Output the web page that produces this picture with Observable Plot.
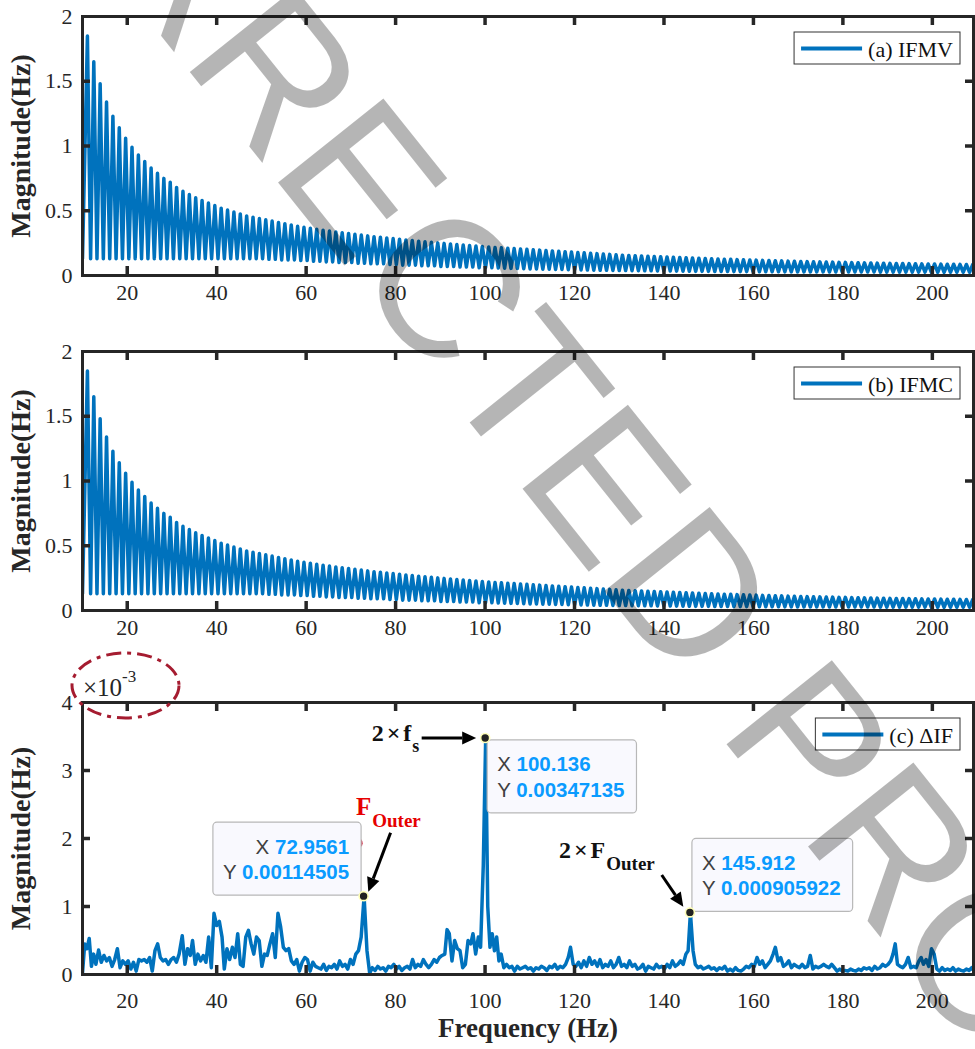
<!DOCTYPE html>
<html>
<head>
<meta charset="utf-8">
<script src="https://cdn.jsdelivr.net/npm/d3@7"></script>
<script src="https://cdn.jsdelivr.net/npm/@observablehq/plot@0.6"></script>
<style>
  html, body { margin: 0; padding: 0; background: #fff; }
  #root { position: relative; width: 975px; height: 1049px; overflow: hidden; background: #fff; }
  .panel { position: absolute; left: 0; }
  #wm { position: absolute; left: 0; top: 0; pointer-events: none; }
</style>
</head>
<body>
<div id="root">
  <div id="pa" class="panel" style="top:0px"></div>
  <div id="pb" class="panel" style="top:335px"></div>
  <div id="pc" class="panel" style="top:640px"></div>
</div>
<script>
// ---------------- DATA ----------------
const xTicks = [20, 40, 60, 80, 100, 120, 140, 160, 180, 200];
const abYTicks = [0, 0.5, 1, 1.5, 2];
const cYTicks = [0, 1, 2, 3, 4];
const xDomain = [10, 209.2];

// IFMV / IFMC spectrum: oscillation peaks on a 1.424 Hz grid starting at 11.1 Hz
const peakStartHz = 11.1, peakStepHz = 1.424, firstValue = 0.13;
const ifmvPeaks = [
  1.85,1.65,1.48,1.34,1.23,1.14,1.06,0.99,0.93,0.88,
  0.83,0.79,0.75,0.72,0.68,0.65,0.625,0.60,0.58,0.56,
  0.54,0.52,0.505,0.49,0.475,0.46,0.45,0.44,0.43,0.42,
  0.41,0.40,0.39,0.38,0.372,0.365,0.357,0.35,0.343,0.336,
  0.33,0.324,0.318,0.312,0.306,0.30,0.295,0.29,0.285,0.28,
  0.275,0.27,0.265,0.26,0.256,0.252,0.248,0.244,0.24,0.236,
  0.232,0.228,0.224,0.22,0.217,0.214,0.211,0.208,0.205,0.202,
  0.199,0.196,0.193,0.19,0.187,0.184,0.181,0.178,0.175,0.172,
  0.169,0.166,0.163,0.16,0.157,0.155,0.153,0.151,0.149,0.147,
  0.145,0.143,0.141,0.139,0.137,0.135,0.133,0.131,0.129,0.127,
  0.126,0.125,0.123,0.122,0.12,0.119,0.117,0.116,0.114,0.113,
  0.111,0.11,0.108,0.107,0.106,0.105,0.104,0.103,0.102,0.101,
  0.1,0.099,0.098,0.097,0.096,0.095,0.094,0.093,0.093,0.092,
  0.091,0.09,0.089,0.089,0.088,0.087,0.087,0.086,0.085,0.085
];
const ifmvTroughs = [
  0.13,0.13,0.13,0.13,0.13,0.13,0.13,0.13,0.13,0.13,
  0.13,0.13,0.13,0.13,0.13,0.13,0.13,0.13,0.13,0.13,
  0.13,0.13,0.13,0.13,0.13,0.13,0.13,0.13,
  0.125,0.125,0.12,0.12,0.12,0.115,0.115,
  0.11,0.11,0.105,0.105,0.1,0.1,0.1,
  0.095,0.095,0.09,0.09,0.09,0.085,0.085,
  0.08,0.08,0.08,0.075,0.075,0.075,0.07,
  0.07,0.07,0.065,0.065,0.065,0.06,0.06,
  0.06,0.058,0.056,0.055,0.054,0.052,0.05,
  0.05,0.049,0.048,0.047,0.046,0.045,0.044,0.043,0.042,0.041,0.04,0.04,0.039,0.038,
  0.038,0.037,0.037,0.036,0.036,0.035,0.035,0.034,0.034,0.033,0.033,0.032,0.032,0.032,
  0.031,0.031,0.031,0.03,0.03,0.03,0.03,0.029,0.029,0.029,0.029,0.028,0.028,0.028,
  0.028,0.028,0.028,0.028,0.027,0.027,0.027,0.027,0.027,0.027,0.027,0.027,
  0.026,0.026,0.026,0.026,0.026,0.026,0.026,0.026,
  0.025,0.025,0.025,0.025,0.025,0.025,0.025,0.025
];
// IFMC curve is visually identical to IFMV
const ifmcPeaks = ifmvPeaks;
const ifmcTroughs = ifmvTroughs;

// ΔIF spectrum: [Hz, magnitude ×10^-3]
const deltaIF = [
  [10.0,0.02],[10.5,0.45],[11.0,0.38],[11.5,0.53],[12.0,0.12],[12.5,0.3],[13.0,0.15],[13.6,0.36],[14.2,0.18],[14.8,0.28],
  [15.4,0.2],[16.0,0.25],[16.6,0.12],[17.2,0.22],[17.8,0.38],[18.4,0.1],[19.0,0.2],[19.6,0.15],[20.2,0.2],[20.8,0.08],
  [21.4,0.18],[22.0,0.05],[22.6,0.22],[23.2,0.2],[23.8,0.22],[24.4,0.18],[25.0,0.25],[25.6,0.05],[26.2,0.35],[26.8,0.45],
  [27.4,0.25],[28.0,0.2],[28.6,0.22],[29.2,0.15],[29.8,0.22],[30.4,0.25],[31.0,0.18],[31.6,0.3],[32.3,0.57],[32.9,0.15],
  [33.5,0.38],[34.1,0.28],[34.6,0.5],[35.2,0.15],[35.8,0.3],[36.4,0.2],[37.0,0.28],[37.6,0.18],[38.2,0.55],[38.8,0.1],
  [39.4,0.9],[40.0,0.72],[40.6,0.78],[41.2,0.55],[41.7,0.08],[42.3,0.38],[42.9,0.22],[43.5,0.4],[44.1,0.25],[44.7,0.6],
  [45.3,0.15],[45.9,0.12],[46.5,0.55],[47.1,0.65],[47.7,0.45],[48.3,0.3],[48.9,0.55],[49.5,0.5],[50.1,0.12],[50.7,0.3],
  [51.3,0.28],[51.9,0.45],[52.5,0.6],[53.1,0.25],[53.7,0.9],[54.3,0.7],[54.9,0.4],[55.5,0.35],[56.1,0.38],[56.7,0.2],
  [57.3,0.15],[57.9,0.22],[58.5,0.05],[59.1,0.18],[59.7,0.25],[60.3,0.22],[60.9,0.05],[61.5,0.18],[62.1,0.12],[62.7,0.1],
  [63.3,0.08],[63.9,0.15],[64.5,0.06],[65.1,0.12],[65.7,0.1],[66.3,0.15],[66.9,0.08],[67.5,0.2],[68.1,0.12],[68.7,0.15],
  [69.3,0.08],[69.9,0.22],[70.5,0.15],[71.1,0.3],[71.7,0.35],[72.3,0.55],[72.9561,1.14505],[73.6,0.35],[74.2,0.02],[74.8,0.1],
  [75.4,0.06],[76.0,0.12],[76.6,0.08],[77.2,0.1],[77.8,0.05],[78.4,0.12],[79.0,0.1],[79.6,0.15],[80.2,0.08],[80.8,0.12],
  [81.4,0.06],[82.0,0.1],[82.6,0.12],[83.2,0.08],[83.8,0.22],[84.4,0.1],[85.0,0.15],[85.6,0.12],[86.2,0.22],[86.8,0.15],
  [87.4,0.1],[88.0,0.15],[88.6,0.22],[89.2,0.18],[89.8,0.25],[90.4,0.28],[91.0,0.3],[91.5,0.66],[92.0,0.6],[92.6,0.2],
  [93.2,0.5],[93.8,0.38],[94.4,0.35],[95.0,0.1],[95.6,0.15],[96.2,0.5],[96.8,0.45],[97.3,0.6],[97.9,0.3],[98.5,0.55],
  [99.0,0.4],[99.6,1.6],[100.136,3.47135],[100.6,1.0],[101.1,0.4],[101.6,0.6],[102.1,0.35],[102.6,0.55],[103.1,0.2],[103.6,0.3],
  [104.2,0.1],[104.8,0.15],[105.4,0.1],[106.0,0.12],[106.6,0.05],[107.2,0.12],[107.8,0.08],[108.4,0.1],[109.0,0.12],[109.6,0.08],
  [110.2,0.1],[110.8,0.05],[111.4,0.1],[112.0,0.08],[112.6,0.12],[113.2,0.1],[113.8,0.06],[114.4,0.12],[115.0,0.1],[115.6,0.15],
  [116.2,0.08],[116.8,0.12],[117.4,0.1],[118.0,0.15],[118.6,0.25],[119.1,0.4],[119.7,0.15],[120.3,0.12],[120.9,0.18],[121.5,0.1],
  [122.1,0.2],[122.7,0.12],[123.3,0.25],[123.9,0.15],[124.5,0.2],[125.1,0.12],[125.7,0.22],[126.3,0.1],[126.9,0.15],[127.5,0.12],
  [128.1,0.2],[128.7,0.1],[129.3,0.15],[129.9,0.25],[130.5,0.12],[131.1,0.15],[131.7,0.1],[132.3,0.2],[132.9,0.12],[133.5,0.15],
  [134.1,0.08],[134.7,0.1],[135.3,0.15],[135.9,0.05],[136.5,0.12],[137.1,0.1],[137.7,0.08],[138.3,0.15],[138.9,0.1],[139.5,0.12],
  [140.1,0.08],[140.7,0.15],[141.3,0.1],[141.9,0.2],[142.5,0.12],[143.1,0.15],[143.7,0.2],[144.3,0.15],[144.9,0.3],[145.4,0.35],
  [145.912,0.905922],[146.5,0.35],[147.0,0.15],[147.6,0.1],[148.2,0.12],[148.8,0.08],[149.4,0.1],[150.0,0.12],[150.6,0.08],[151.2,0.1],
  [151.8,0.06],[152.4,0.1],[153.0,0.08],[153.6,0.12],[154.2,0.05],[154.8,0.08],[155.4,0.05],[156.0,0.1],[156.6,0.06],[157.2,0.05],
  [157.8,0.08],[158.4,0.12],[159.0,0.1],[159.6,0.15],[160.2,0.12],[160.8,0.25],[161.4,0.15],[162.0,0.2],[162.6,0.1],[163.2,0.15],
  [163.8,0.2],[164.4,0.3],[164.9,0.4],[165.5,0.2],[166.1,0.25],[166.7,0.12],[167.3,0.15],[167.9,0.2],[168.5,0.1],[169.1,0.15],
  [169.7,0.12],[170.3,0.1],[170.9,0.15],[171.5,0.1],[172.1,0.12],[172.7,0.28],[173.3,0.08],[173.9,0.12],[174.5,0.1],[175.1,0.12],
  [175.7,0.15],[176.3,0.12],[176.9,0.1],[177.5,0.15],[178.1,0.1],[178.7,0.05],[179.3,0.08],[179.9,0.05],[180.5,0.06],[181.1,0.05],
  [181.7,0.08],[182.3,0.06],[182.9,0.05],[183.5,0.08],[184.1,0.06],[184.7,0.1],[185.3,0.08],[185.9,0.1],[186.5,0.06],[187.1,0.12],
  [187.7,0.08],[188.3,0.1],[188.9,0.15],[189.5,0.12],[190.1,0.15],[190.7,0.2],[191.2,0.3],[191.7,0.45],[192.2,0.15],[192.8,0.12],
  [193.4,0.1],[194.0,0.15],[194.6,0.25],[195.2,0.1],[195.8,0.12],[196.4,0.1],[197.0,0.2],[197.5,0.25],[198.0,0.15],[198.6,0.22],
  [199.2,0.12],[199.8,0.38],[200.4,0.3],[201.0,0.08],[201.6,0.05],[202.2,0.1],[202.8,0.06],[203.4,0.08],[204.0,0.06],[204.6,0.1],
  [205.2,0.05],[205.8,0.08],[206.4,0.06],[207.0,0.05],[207.6,0.08],[208.2,0.06],[208.8,0.1],[209.3,0.05]
];

// data tips (values in ×10^-3 for plotting, strings as shown)
const tips = [
  {hz: 72.9561, mag: 1.14505, xText: "72.9561", yText: "0.00114505", side: "left", vert: "above"},
  {hz: 100.136, mag: 3.47135, xText: "100.136", yText: "0.00347135", side: "right", vert: "below"},
  {hz: 145.912, mag: 0.905922, xText: "145.912", yText: "0.000905922", side: "right", vert: "above"}
];

// ---------------- STYLE ----------------
const BLUE = "#0072BD", INK = "#262626";
const SERIF = "'Liberation Serif', 'Times New Roman', serif";
const SANS = "'Liberation Sans', Arial, Helvetica, sans-serif";
const W = 975, ML = 82, MR = 2;

function ifSeries(peaks, troughs) {
  const pts = [{f: xDomain[0], v: firstValue}];
  peaks.forEach((p, k) => {
    const f = peakStartHz + k * peakStepHz;
    pts.push({f, v: p});
    pts.push({f: f + peakStepHz / 2, v: troughs[k]});
  });
  return pts;
}

function makePanel({el, height, mt, mb, data, yDomain, yTicks, legend, labelPad, xLabel, lineWidth}) {
  const plotH = height - mt - mb, plotW = W - ML - MR;
  const inner = yTicks.slice(1, -1);
  const marks = [
    Plot.line(data, {x: "f", y: "v", stroke: BLUE, strokeWidth: lineWidth, strokeLinejoin: "round", strokeLinecap: "round", clip: true}),
    Plot.frame({stroke: INK, strokeWidth: 3}),
    Plot.tickX(xTicks, {x: d => d, stroke: INK, strokeWidth: 3.5, insetTop: plotH - 9}),
    Plot.tickX(xTicks, {x: d => d, stroke: INK, strokeWidth: 3.5, insetBottom: plotH - 9}),
    Plot.tickY(inner, {y: d => d, stroke: INK, strokeWidth: 3.5, insetRight: plotW - 8}),
    Plot.tickY(inner, {y: d => d, stroke: INK, strokeWidth: 3.5, insetLeft: plotW - 8}),
    Plot.axisX(xTicks, {tickSize: 0, tickPadding: labelPad, label: null, tickFormat: d => String(d), fontSize: 22}),
    Plot.axisY(yTicks, {tickSize: 0, tickPadding: 10, label: null, tickFormat: d => String(d), fontSize: 22}),
    Plot.text(["Magnitude(Hz)"], {text: d => d, frameAnchor: "left", textAnchor: "middle", lineAnchor: "middle", rotate: -90, dx: -61, fontSize: 28, fontWeight: "bold", fill: INK})
  ];
  if (xLabel) marks.push(Plot.text([xLabel], {text: d => d, frameAnchor: "bottom", textAnchor: "middle", lineAnchor: "middle", dy: 54, fontSize: 27, fontWeight: "bold", fill: INK}));
  const plot = Plot.plot({
    width: W, height, marginLeft: ML, marginRight: MR, marginTop: mt, marginBottom: mb,
    x: {domain: xDomain}, y: {domain: yDomain},
    style: {fontFamily: SERIF, fontSize: "22px", color: INK, background: "transparent", overflow: "visible"},
    marks
  });
  document.getElementById(el).appendChild(plot);
  const frame = {left: ML, right: W - MR, top: mt, bottom: height - mb};
  addLegend(plot, frame, legend);
  return {plot, frame};
}

function addLegend(svg, frame, label) {
  const g = d3.select(svg).append("g").attr("text-anchor", "start");
  const top = frame.top + 16, right = frame.right - 13, h = 32;
  const rect = g.append("rect");
  const t = g.append("text").attr("text-anchor", "start").attr("font-family", SERIF).attr("font-size", 22).attr("fill", "#111").text(label);
  const tw = t.node().getComputedTextLength();
  const left = right - (74 + tw + 7);
  rect.attr("x", left).attr("y", top).attr("width", right - left).attr("height", h)
      .attr("fill", "#fff").attr("stroke", "#333").attr("stroke-width", 1);
  g.append("line").attr("x1", left + 7).attr("x2", left + 68).attr("y1", top + 16.5).attr("y2", top + 16.5)
      .attr("stroke", BLUE).attr("stroke-width", 4);
  t.attr("x", left + 74).attr("y", top + 24.5);
}

function arrow(g, tx, ty, hx, hy) {
  const len = Math.hypot(hx - tx, hy - ty), dx = (hx - tx) / len, dy = (hy - ty) / len;
  const bx = hx - 14 * dx, by = hy - 14 * dy, px = -dy, py = dx;
  g.append("line").attr("x1", tx).attr("y1", ty).attr("x2", bx).attr("y2", by)
    .attr("stroke", "#000").attr("stroke-width", 3);
  g.append("path").attr("d", `M${hx},${hy}L${bx + 6.5 * px},${by + 6.5 * py}L${bx - 6.5 * px},${by - 6.5 * py}Z`).attr("fill", "#000");
}

// ---------------- PANELS ----------------
makePanel({el: "pa", height: 335, mt: 16, mb: 60, data: ifSeries(ifmvPeaks, ifmvTroughs), yDomain: [0, 2], yTicks: abYTicks, legend: "(a) IFMV", labelPad: 9, lineWidth: 3.5});
makePanel({el: "pb", height: 305, mt: 16, mb: 30, data: ifSeries(ifmcPeaks, ifmcTroughs), yDomain: [0, 2], yTicks: abYTicks, legend: "(b) IFMC", labelPad: 9, lineWidth: 3.5});
const pc = makePanel({el: "pc", height: 409, mt: 62, mb: 75, data: deltaIF.map(([f, v]) => ({f, v})), yDomain: [0, 4], yTicks: cYTicks, legend: "(c) \u0394IF", labelPad: 18, xLabel: "Frequency (Hz)", lineWidth: 3.5});

// ---------------- PANEL C ANNOTATIONS ----------------
(function () {
  const svg = pc.plot, fr = pc.frame;
  const sx = svg.scale("x"), sy = svg.scale("y");
  const g = d3.select(svg).append("g").attr("text-anchor", "start");
  const P = tips.map(t => ({...t, x: sx.apply(t.hz), y: sy.apply(t.mag)}));

  // exponent label and dashed ellipse
  const ex = g.append("text").attr("text-anchor", "start").attr("x", fr.left + 1).attr("y", fr.top - 6)
    .attr("font-family", SERIF).attr("font-size", 25).attr("fill", INK);
  ex.append("tspan").text("\u00d710");
  ex.append("tspan").attr("font-size", 17).attr("dy", -14).text("-3");
  g.append("ellipse").attr("cx", fr.left + 43.5).attr("cy", fr.top - 16.5).attr("rx", 53.5).attr("ry", 32.5)
    .attr("fill", "none").attr("stroke", "#a51c30").attr("stroke-width", 3).attr("stroke-dasharray", "15 6 4 6");

  // small red marker partly hidden behind first tip
  g.append("circle").attr("cx", P[0].x - 6).attr("cy", P[0].y - 53).attr("r", 5).attr("fill", "#c8102e");

  // data tip boxes
  P.forEach(p => {
    const tg = g.append("g");
    const rect = tg.append("rect");
    const t1 = tg.append("text").attr("font-family", SANS).attr("font-size", 20.5);
    t1.append("tspan").attr("fill", "#404040").text("X ");
    t1.append("tspan").attr("fill", "#0a9bff").attr("font-weight", "bold").text(p.xText);
    const t2 = tg.append("text").attr("font-family", SANS).attr("font-size", 20.5);
    t2.append("tspan").attr("fill", "#404040").text("Y ");
    t2.append("tspan").attr("fill", "#0a9bff").attr("font-weight", "bold").text(p.yText);
    const tw = Math.max(t1.node().getComputedTextLength(), t2.node().getComputedTextLength());
    const bw = tw + 22, bh = 73;
    const left = p.side === "right" ? p.x + 2 : p.x - 2.5 - bw;
    const top = p.vert === "above" ? p.y - 1 - bh : p.y + 2;
    rect.attr("x", left).attr("y", top).attr("width", bw).attr("height", bh).attr("rx", 4)
      .attr("fill", "#f9f9fe").attr("stroke", "#b8b8b8").attr("stroke-width", 1.2);
    if (p.side === "right") {
      t1.attr("x", left + 10).attr("y", top + 31.5).attr("text-anchor", "start");
      t2.attr("x", left + 10).attr("y", top + 57).attr("text-anchor", "start");
    } else {
      t1.attr("x", left + bw - 12).attr("y", top + 31.5).attr("text-anchor", "end");
      t2.attr("x", left + bw - 12).attr("y", top + 57).attr("text-anchor", "end");
    }
  });
  // tip dots
  P.forEach(p => {
    g.append("circle").attr("cx", p.x).attr("cy", p.y).attr("r", 4.5)
      .attr("fill", "#222").attr("stroke", "#ffffb8").attr("stroke-width", 1.6);
  });

  // 2×f_s
  const a1 = g.append("text").attr("text-anchor", "start").attr("x", P[1].x - 113.5).attr("y", P[1].y + 3)
    .attr("font-family", SERIF).attr("font-weight", "bold").attr("font-size", 24).attr("fill", "#111");
  a1.append("tspan").text("2");
  a1.append("tspan").attr("dx", 3).text("\u00d7");
  a1.append("tspan").attr("dx", 3).text("f");
  a1.append("tspan").attr("font-size", 18).attr("dy", 11).attr("dx", 1).text("s");
  arrow(g, P[1].x - 63.5, P[1].y, P[1].x - 9, P[1].y);

  // F_Outer (red)
  const a2 = g.append("text").attr("text-anchor", "start").attr("x", P[0].x - 7.6).attr("y", P[0].y - 81)
    .attr("font-family", SERIF).attr("font-weight", "bold").attr("font-size", 25).attr("fill", "#e60000");
  a2.append("tspan").text("F");
  a2.append("tspan").attr("font-size", 19).attr("dy", 11.7).attr("dx", 1).text("Outer");
  arrow(g, P[0].x + 27, P[0].y - 63.4, P[0].x + 4.7, P[0].y - 4.4);

  // 2×F_Outer
  const a3 = g.append("text").attr("text-anchor", "start").attr("x", P[2].x - 131).attr("y", P[2].y - 54.4)
    .attr("font-family", SERIF).attr("font-weight", "bold").attr("font-size", 24).attr("fill", "#111");
  a3.append("tspan").text("2");
  a3.append("tspan").attr("dx", 3).text("\u00d7");
  a3.append("tspan").attr("dx", 3).text("F");
  a3.append("tspan").attr("font-size", 19).attr("dy", 12).attr("dx", 1).text("Outer");
  arrow(g, P[2].x - 28.2, P[2].y - 37.4, P[2].x - 6.6, P[2].y - 5.7);
})();

// ---------------- WATERMARK ----------------
(function () {
  const wm = d3.select("#root").append("svg").attr("id", "wm").attr("width", 975).attr("height", 1049);
  wm.append("text").attr("transform", "translate(-92,-281) rotate(51.4)")
    .attr("font-family", SANS).attr("font-size", 196).attr("fill", "rgba(0,0,0,0.29)")
    .text("CORRECTED PROOF");
})();
</script>
</body>
</html>
